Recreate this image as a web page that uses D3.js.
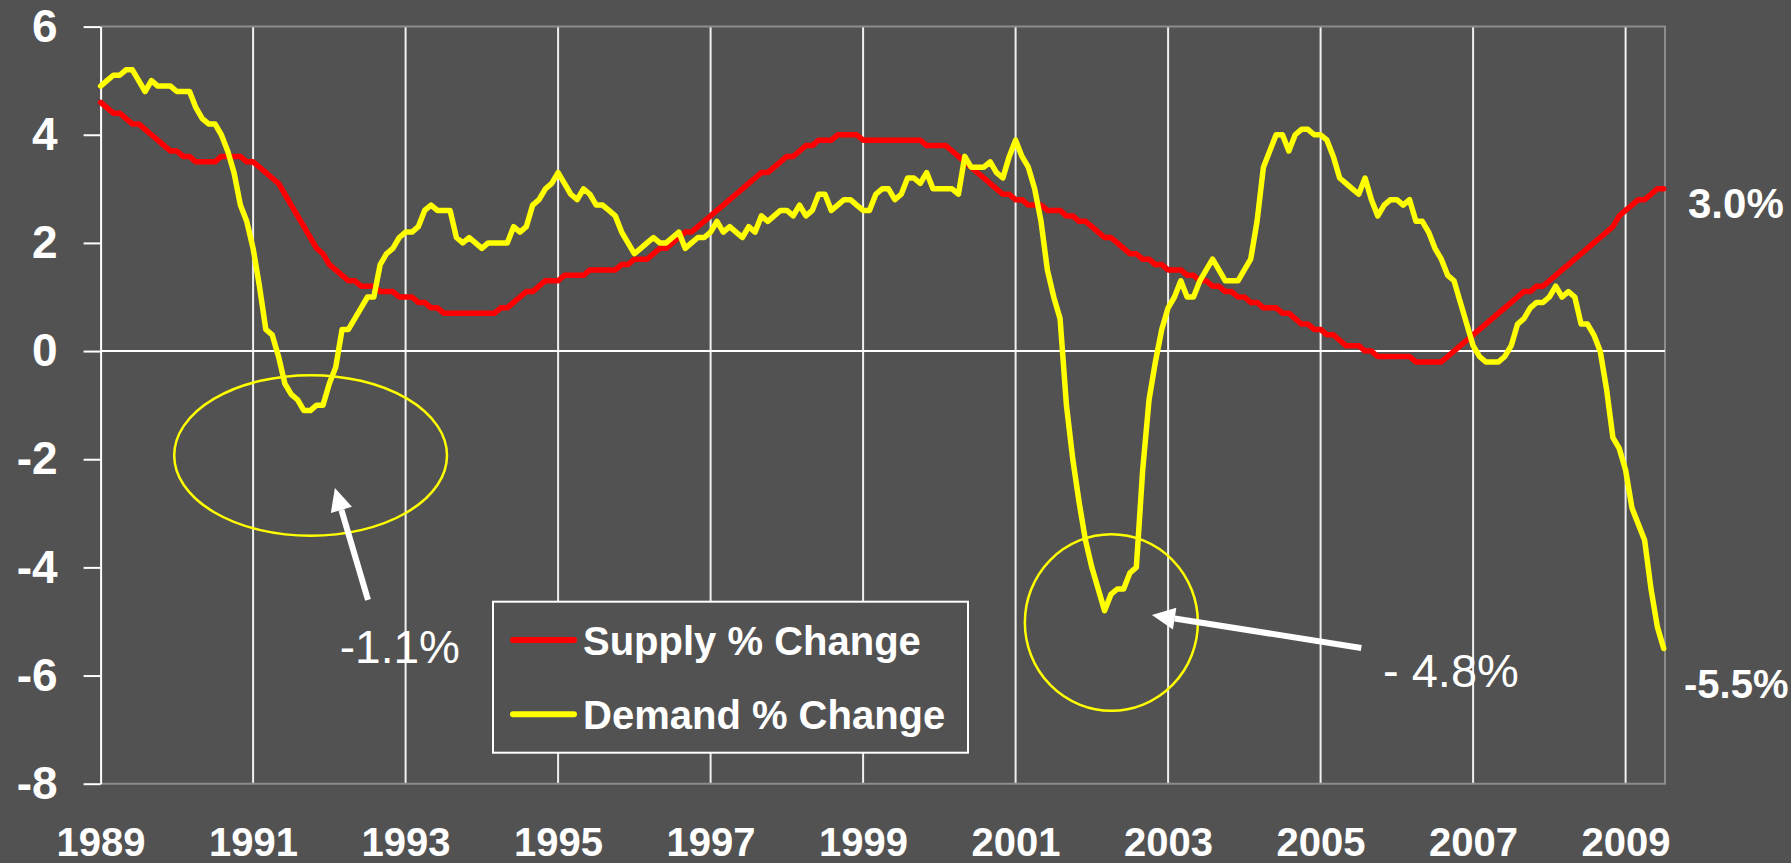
<!DOCTYPE html>
<html>
<head>
<meta charset="utf-8">
<script src="https://cdn.jsdelivr.net/npm/d3@7"></script>
<style>
  body { margin: 0; background: #525252; }
  svg { display: block; }
  text { font-family: "Liberation Sans", Arial, sans-serif; fill: #ffffff; }
</style>
</head>
<body>
<div id="chart"></div>
<script>
// monthly % change, Jan 1989 .. Jul 2009
var supply = [
  4.6,4.5,4.4,4.4,4.3,4.2,4.2,4.1,4.0,3.9,3.8,3.7,
  3.7,3.6,3.6,3.5,3.5,3.5,3.5,3.6,3.6,3.6,3.6,3.5,
  3.5,3.4,3.3,3.2,3.1,2.9,2.7,2.5,2.3,2.1,1.9,1.8,
  1.6,1.5,1.4,1.3,1.3,1.2,1.2,1.2,1.1,1.1,1.1,1.0,
  1.0,1.0,0.9,0.9,0.8,0.8,0.7,0.7,0.7,0.7,0.7,0.7,
  0.7,0.7,0.7,0.8,0.8,0.9,1.0,1.1,1.1,1.2,1.3,1.3,
  1.3,1.4,1.4,1.4,1.4,1.5,1.5,1.5,1.5,1.5,1.6,1.6,
  1.7,1.7,1.7,1.8,1.9,1.9,2.0,2.1,2.2,2.2,2.3,2.4,
  2.5,2.6,2.7,2.8,2.9,3.0,3.1,3.2,3.3,3.3,3.4,3.5,
  3.6,3.6,3.7,3.8,3.8,3.9,3.9,3.9,4.0,4.0,4.0,4.0,
  3.9,3.9,3.9,3.9,3.9,3.9,3.9,3.9,3.9,3.9,3.8,3.8,
  3.8,3.8,3.7,3.6,3.5,3.4,3.3,3.2,3.1,3.0,2.9,2.9,
  2.8,2.8,2.7,2.7,2.7,2.6,2.6,2.6,2.5,2.5,2.4,2.4,
  2.3,2.2,2.1,2.1,2.0,1.9,1.8,1.8,1.7,1.7,1.6,1.6,
  1.5,1.5,1.5,1.4,1.4,1.3,1.3,1.2,1.2,1.1,1.1,1.0,
  1.0,0.9,0.9,0.8,0.8,0.8,0.7,0.7,0.6,0.5,0.5,0.4,
  0.4,0.3,0.3,0.2,0.1,0.1,0.1,0.0,0.0,-0.1,-0.1,-0.1,
  -0.1,-0.1,-0.1,-0.2,-0.2,-0.2,-0.2,-0.2,-0.1,0.0,0.1,0.2,
  0.3,0.4,0.5,0.6,0.7,0.8,0.9,1.0,1.1,1.1,1.2,1.2,
  1.3,1.4,1.5,1.6,1.7,1.8,1.9,2.0,2.1,2.2,2.3,2.5,
  2.6,2.7,2.8,2.8,2.9,3.0,3.0
]
var demand = [
  4.9,5.0,5.1,5.1,5.2,5.2,5.0,4.8,5.0,4.9,4.9,4.9,
  4.8,4.8,4.8,4.5,4.3,4.2,4.2,4.0,3.7,3.3,2.7,2.4,
  1.9,1.2,0.4,0.3,-0.1,-0.6,-0.8,-0.9,-1.1,-1.1,-1.0,-1.0,
  -0.6,-0.3,0.4,0.4,0.6,0.8,1.0,1.0,1.6,1.8,1.9,2.1,
  2.2,2.2,2.3,2.6,2.7,2.6,2.6,2.6,2.1,2.0,2.1,2.0,
  1.9,2.0,2.0,2.0,2.0,2.3,2.2,2.3,2.7,2.8,3.0,3.1,
  3.3,3.1,2.9,2.8,3.0,2.9,2.7,2.7,2.6,2.5,2.2,2.0,
  1.8,1.9,2.0,2.1,2.0,2.0,2.1,2.2,1.9,2.0,2.1,2.1,
  2.2,2.4,2.2,2.3,2.2,2.1,2.3,2.2,2.5,2.4,2.5,2.6,
  2.6,2.5,2.7,2.5,2.6,2.9,2.9,2.6,2.7,2.8,2.8,2.7,
  2.6,2.6,2.9,3.0,3.0,2.8,2.9,3.2,3.2,3.1,3.3,3.0,
  3.0,3.0,3.0,2.9,3.6,3.4,3.4,3.4,3.5,3.3,3.2,3.6,
  3.9,3.6,3.4,3.0,2.4,1.5,1.0,0.6,-1.0,-2.0,-2.8,-3.5,
  -4.0,-4.4,-4.8,-4.5,-4.4,-4.4,-4.1,-4.0,-2.2,-0.9,-0.2,0.4,
  0.8,1.0,1.3,1.0,1.0,1.3,1.5,1.7,1.5,1.3,1.3,1.3,
  1.5,1.7,2.4,3.4,3.7,4.0,4.0,3.7,4.0,4.1,4.1,4.0,
  4.0,3.9,3.6,3.2,3.1,3.0,2.9,3.2,2.8,2.5,2.7,2.8,
  2.8,2.7,2.8,2.4,2.4,2.2,1.9,1.7,1.4,1.3,0.9,0.5,
  0.1,-0.1,-0.2,-0.2,-0.2,-0.1,0.1,0.5,0.6,0.8,0.9,0.9,
  1.0,1.2,1.0,1.1,1.0,0.5,0.5,0.3,0.0,-0.7,-1.6,-1.8,
  -2.2,-2.9,-3.2,-3.5,-4.4,-5.1,-5.5
]
var yearLabels = ["1989","1991","1993","1995","1997","1999","2001","2003","2005","2007","2009"]
var yTicks = [-8, -6, -4, -2, 0, 2, 4, 6]
var seriesNames = ["Supply % Change", "Demand % Change"]
var seriesColors = ["#ff0000", "#ffff00"]

var width = 1791
var height = 863
var plotLeft = 100.6, plotRight = 1665, plotTop = 26.6, plotBottom = 783.7

var svg = d3.select("#chart")
  .append("svg")
  .attr("width", width)
  .attr("height", height)

svg.append("rect")
  .attr("width", width)
  .attr("height", height)
  .attr("fill", "#525252")

// month index on x, one gridline every 2 years
var x = d3.scaleLinear().domain([0, 246.2]).range([plotLeft, plotRight])
var y = d3.scaleLinear().domain([-8, 6]).range([plotBottom, plotTop])
var yearTicks = yearLabels.map(function(d, i) { return i * 24 })

// vertical gridlines
svg.append("g")
  .selectAll("line")
  .data(yearTicks.slice(1))
  .enter()
  .append("line")
  .attr("x1", function(d) { return x(d) })
  .attr("x2", function(d) { return x(d) })
  .attr("y1", plotTop)
  .attr("y2", plotBottom)
  .attr("stroke", "#f0f0f0")
  .attr("stroke-width", 2)

// plot border (top, right, bottom)
svg.append("path")
  .attr("d", "M" + plotLeft + "," + plotTop + "H" + plotRight + "V" + plotBottom + "H" + plotLeft)
  .attr("fill", "none")
  .attr("stroke", "#8c8c8c")
  .attr("stroke-width", 2)

// zero line
svg.append("line")
  .attr("x1", plotLeft)
  .attr("x2", plotRight)
  .attr("y1", y(0))
  .attr("y2", y(0))
  .attr("stroke", "#ffffff")
  .attr("stroke-width", 2)

// y axis, plain hyphen for negatives
var yAxis = svg.append("g")
  .attr("transform", "translate(" + plotLeft + ",0)")
  .call(d3.axisLeft(y).tickValues(yTicks).tickSize(17).tickSizeOuter(0).tickPadding(26)
    .tickFormat(function(d) { return String(d) }))
yAxis.select(".domain").attr("stroke", "#ffffff").attr("stroke-width", 2)
yAxis.selectAll(".tick line").attr("stroke", "#ffffff").attr("stroke-width", 2)
yAxis.selectAll(".tick text")
  .attr("fill", "#ffffff")
  .style("font-size", "46px")
  .style("font-weight", "bold")

// x axis labels
var xAxis = svg.append("g")
  .attr("transform", "translate(0," + plotBottom + ")")
  .call(d3.axisBottom(x).tickValues(yearTicks).tickSize(0).tickPadding(44)
    .tickFormat(function(d, i) { return yearLabels[i] }))
xAxis.select(".domain").remove()
xAxis.selectAll(".tick text")
  .attr("fill", "#ffffff")
  .style("font-size", "40px")
  .style("font-weight", "bold")

// the two series
var line = d3.line()
  .x(function(d, i) { return x(i) })
  .y(function(d) { return y(d) })

svg.append("g")
  .selectAll("path")
  .data([supply, demand])
  .enter()
  .append("path")
  .attr("d", line)
  .attr("fill", "none")
  .attr("stroke", function(d, i) { return seriesColors[i] })
  .attr("stroke-width", 5.5)
  .attr("stroke-linejoin", "round")
  .attr("stroke-linecap", "round")

// legend
var legend = svg.append("g")
legend.append("rect")
  .attr("x", 493)
  .attr("y", 601.7)
  .attr("width", 475)
  .attr("height", 151)
  .attr("fill", "#525252")
  .attr("stroke", "#ffffff")
  .attr("stroke-width", 2)
seriesNames.forEach(function(name, i) {
  var ly = 640 + i * 74.3
  legend.append("line")
    .attr("x1", 513).attr("x2", 574)
    .attr("y1", ly).attr("y2", ly)
    .attr("stroke", seriesColors[i])
    .attr("stroke-width", 6)
    .attr("stroke-linecap", "round")
  legend.append("text")
    .attr("x", 583)
    .attr("y", ly + 15)
    .style("font-size", "40px")
    .style("font-weight", "bold")
    .text(name)
})

// annotations: circles round the two dips
svg.append("ellipse")
  .attr("cx", x(33.05)).attr("cy", y(-1.93))
  .attr("rx", 136.4).attr("ry", 80.3)
  .attr("fill", "none").attr("stroke", "#ffff00").attr("stroke-width", 2.5)
svg.append("ellipse")
  .attr("cx", x(159.07)).attr("cy", y(-5.02))
  .attr("rx", 86.5).attr("ry", 88.3)
  .attr("fill", "none").attr("stroke", "#ffff00").attr("stroke-width", 2.5)

function arrow(x0, y0, x1, y1) {
  var ang = Math.atan2(y1 - y0, x1 - x0)
  var len = 23, half = 11
  var bx = x1 - len * Math.cos(ang), by = y1 - len * Math.sin(ang)
  var px = -Math.sin(ang), py = Math.cos(ang)
  svg.append("line")
    .attr("x1", x0).attr("y1", y0).attr("x2", bx).attr("y2", by)
    .attr("stroke", "#ffffff").attr("stroke-width", 6)
  svg.append("path")
    .attr("d", "M" + x1 + "," + y1 + "L" + (bx + px * half) + "," + (by + py * half) +
      "L" + (bx - px * half) + "," + (by - py * half) + "Z")
    .attr("fill", "#ffffff")
}
arrow(x(42.08), y(-4.6), x(36.87), y(-2.53))
arrow(x(198.4), y(-5.49), x(165.45), y(-4.88))

svg.append("text")
  .attr("x", 339.8).attr("y", 663.3)
  .style("font-size", "46px")
  .text("-1.1%")
svg.append("text")
  .attr("x", 1383).attr("y", 687.3)
  .style("font-size", "47px")
  .text("- 4.8%")

// end values
svg.append("text")
  .attr("x", 1688).attr("y", 218.3)
  .style("font-size", "42px")
  .style("font-weight", "bold")
  .text("3.0%")
svg.append("text")
  .attr("x", 1684).attr("y", 698.3)
  .style("font-size", "40px")
  .style("font-weight", "bold")
  .text("-5.5%")
</script>
</body>
</html>
